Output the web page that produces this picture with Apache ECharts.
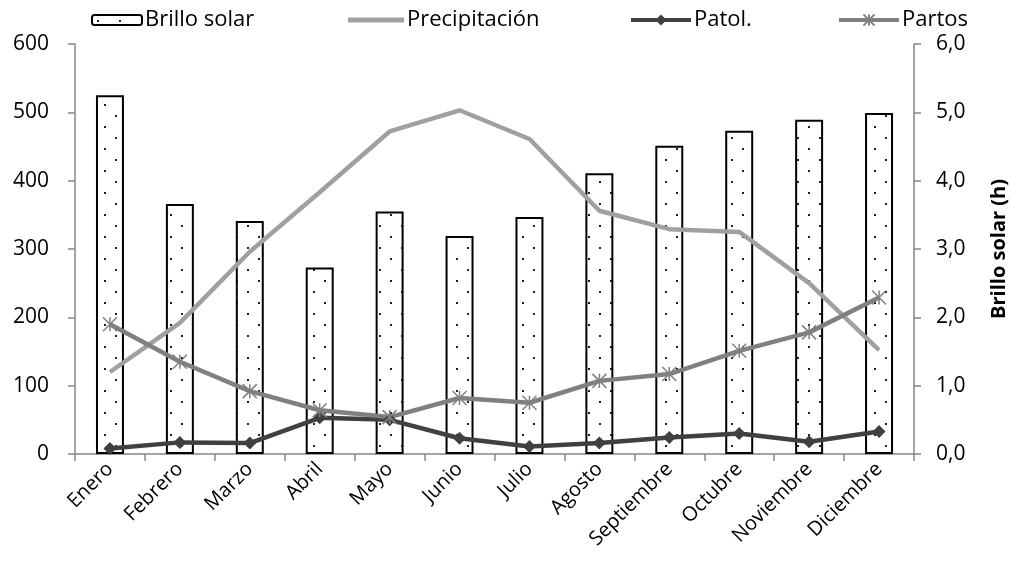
<!DOCTYPE html>
<html>
<head>
<meta charset="utf-8">
<script src="https://cdn.jsdelivr.net/npm/echarts@6/dist/echarts.min.js"></script>
<style>
  html, body { margin: 0; padding: 0; background: #fff; }
  #chart { width: 1011px; height: 579px; }
</style>
</head>
<body>
<div id="chart"></div>
<script>
// ---- data ----
const months = ["Enero", "Febrero", "Marzo", "Abril", "Mayo", "Junio", "Julio",
  "Agosto", "Septiembre", "Octubre", "Noviembre", "Diciembre"];
const brilloSolar = [5.25, 3.66, 3.41, 2.73, 3.55, 3.19, 3.47, 4.11, 4.51, 4.73, 4.89, 4.99];
const precipitacion = [120, 192, 296, 383, 472, 503, 461, 356, 329, 325, 250, 152];
const patol = [8, 17, 16, 53, 50, 23, 11, 16, 24, 30, 18, 33];
const partos = [190, 135, 92, 64, 54, 82, 75, 107, 117, 151, 178, 229];

const FONT = "Open Sans";

// dotted fill for the bars
function dotPattern() {
  const c = document.createElement("canvas");
  c.width = 22; c.height = 22;
  const ctx = c.getContext("2d");
  ctx.fillStyle = "#fff";
  ctx.fillRect(0, 0, 22, 22);
  ctx.fillStyle = "#222";
  ctx.fillRect(5, 5, 2, 2);
  ctx.fillRect(16, 16, 2, 2);
  return c;
}

const asterisk = "path://M0,0L10,10M10,0L0,10M5,0L5,10";

document.addEventListener("DOMContentLoaded", () => {
  const chart = echarts.init(document.getElementById("chart"));
  const pattern = { image: dotPattern(), repeat: "repeat" };

  const legendText = { fontFamily: FONT, fontSize: 22, color: "#000", padding: [0, 0, 0, -2] };

  const option = {
    animation: false,
    textStyle: { fontFamily: FONT },
    legend: [
      { data: ["Brillo solar"], left: 86, top: 4, itemWidth: 50, itemHeight: 10, itemGap: 4, textStyle: legendText },
      { data: [{ name: "Precipitación", icon: "rect" }], left: 343, top: 4, itemWidth: 56, itemHeight: 5, textStyle: legendText },
      { data: ["Patol."], left: 624, top: 4, itemWidth: 60, itemHeight: 14, lineStyle: { width: 4 }, textStyle: legendText },
      { data: ["Partos"], left: 832, top: 4, itemWidth: 60, itemHeight: 14, lineStyle: { width: 4 }, textStyle: legendText }
    ],
    grid: { left: 75, right: 97, top: 44, bottom: 125, outerBoundsMode: "none" },
    xAxis: {
      type: "category",
      data: months,
      boundaryGap: true,
      axisLine: { lineStyle: { color: "#868686", width: 1.5 } },
      axisTick: { show: true, length: 7, lineStyle: { color: "#868686", width: 1.5 } },
      axisLabel: { rotate: 45, fontSize: 20, color: "#000", fontFamily: FONT, margin: 12, interval: 0 }
    },
    yAxis: [
      {
        type: "value",
        min: 0, max: 600, interval: 100,
        splitLine: { show: false },
        axisLine: { show: true, lineStyle: { color: "#868686", width: 1.5 } },
        axisTick: { show: true, length: 7, lineStyle: { color: "#868686", width: 1.5 } },
        axisLabel: { fontSize: 21, color: "#000", fontFamily: FONT, margin: 26 }
      },
      {
        type: "value",
        min: 0, max: 6, interval: 1,
        position: "right",
        splitLine: { show: false },
        axisLine: { show: true, lineStyle: { color: "#868686", width: 1.5 } },
        axisTick: { show: true, length: 7, lineStyle: { color: "#868686", width: 1.5 } },
        axisLabel: {
          fontSize: 21, color: "#000", fontFamily: FONT, margin: 22,
          formatter: v => v.toFixed(1).replace(".", ",")
        },
        name: "Brillo solar (h)",
        nameLocation: "middle",
        nameRotate: 90,
        nameGap: 75,
        nameTextStyle: { fontSize: 20, fontWeight: "bold", color: "#000", fontFamily: FONT }
      }
    ],
    series: [
      {
        name: "Brillo solar",
        type: "bar",
        yAxisIndex: 1,
        data: brilloSolar,
        barWidth: "40%",
        itemStyle: { color: pattern, borderColor: "#000", borderWidth: 2 }
      },
      {
        name: "Precipitación",
        type: "line",
        data: precipitacion,
        showSymbol: false,
        symbol: "none",
        lineStyle: { color: "#a0a0a0", width: 4.5 },
        itemStyle: { color: "#a0a0a0" }
      },
      {
        name: "Patol.",
        type: "line",
        data: patol,
        symbol: "diamond",
        symbolSize: 13,
        lineStyle: { color: "#404040", width: 4.5 },
        itemStyle: { color: "#404040" }
      },
      {
        name: "Partos",
        type: "line",
        data: partos,
        symbol: asterisk,
        symbolSize: 14,
        lineStyle: { color: "#808080", width: 4.5 },
        itemStyle: { color: "#808080", borderColor: "#808080", borderWidth: 1.5 }
      }
    ]
  };

  chart.setOption(option);
  window.addEventListener("resize", chart.resize);
});
</script>
</body>
</html>
